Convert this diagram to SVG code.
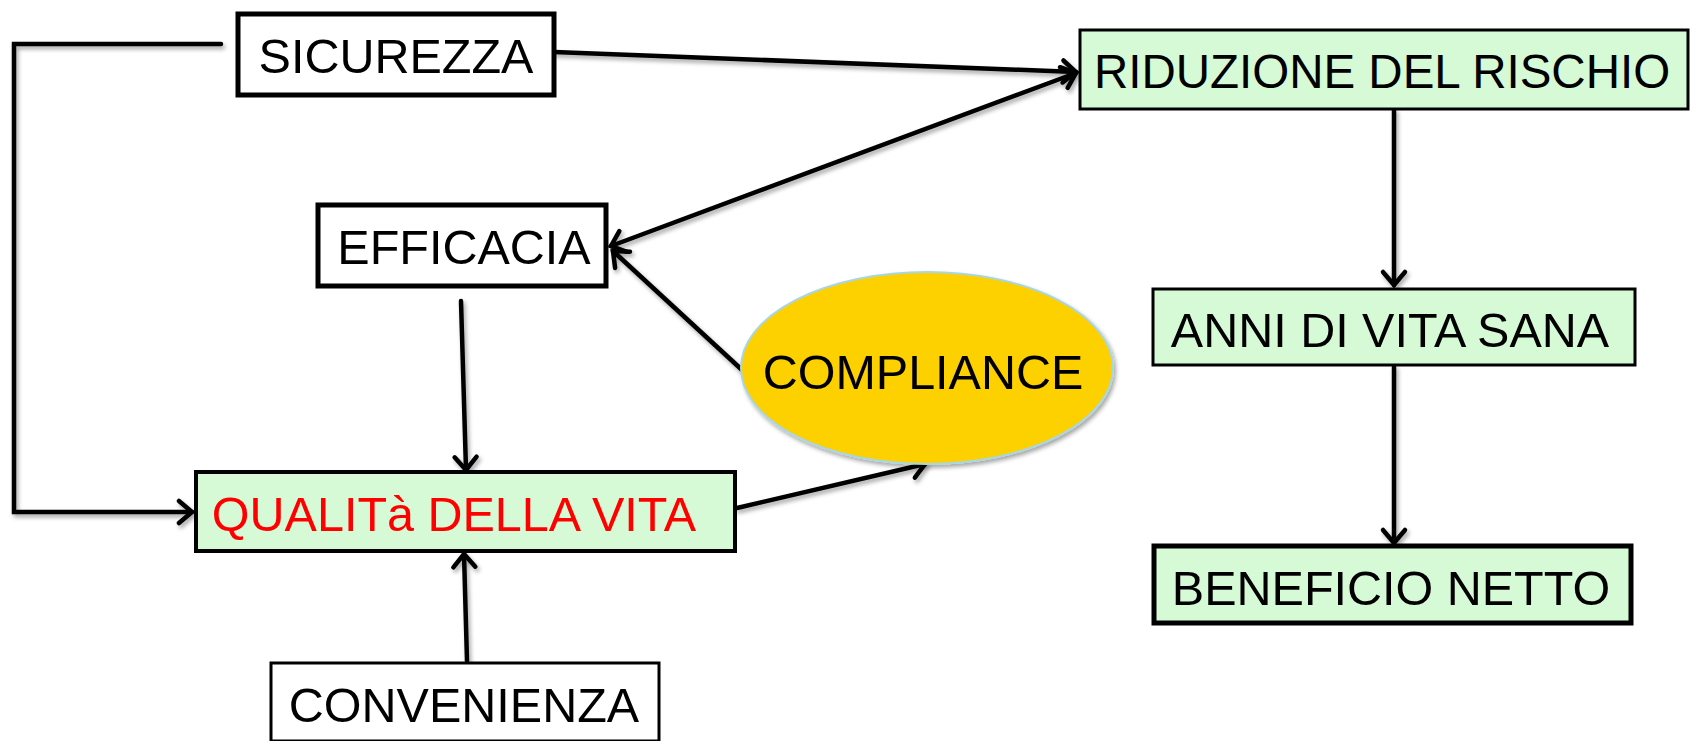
<svg xmlns="http://www.w3.org/2000/svg" width="1694" height="741" viewBox="0 0 1694 741">
<style>
.box{stroke:#000;fill:#fff}
.green{fill:#d5fad5}
.t{font-family:"Liberation Sans",Arial,sans-serif;font-size:48.5px;fill:#000;text-anchor:middle}
.red{fill:#ff0000}
.c{fill:none;stroke:#000;stroke-width:4.5;stroke-linecap:round;stroke-linejoin:miter}
</style>
<defs>
<filter id="sh" x="-20%" y="-20%" width="140%" height="140%">
<feDropShadow dx="2" dy="3" stdDeviation="2" flood-color="#000" flood-opacity="0.35"/>
</filter>
<marker id="ah" markerUnits="userSpaceOnUse" markerWidth="30" markerHeight="30" refX="16" refY="13" orient="auto-start-reverse" overflow="visible">
<path d="M3,2 L16,13 L3,24" fill="none" stroke="#000" stroke-width="4.5" stroke-linecap="round" stroke-linejoin="miter"/>
</marker>
</defs>
<g id="connectors" filter="url(#sh)">
<path class="c" d="M554,52 L1076,72" marker-end="url(#ah)"/>
<path class="c" d="M221,44 L14,44 L14,512 L192,512" marker-end="url(#ah)"/>
<path class="c" d="M611,246 L1076,73" marker-start="url(#ah)" marker-end="url(#ah)"/>
<path class="c" d="M741,369 L613,251" marker-end="url(#ah)"/>
<path class="c" d="M461,301 L466,470" marker-end="url(#ah)"/>
<path class="c" d="M737,508 L925,464" marker-end="url(#ah)"/>
<path class="c" d="M467,661 L464,554" marker-end="url(#ah)"/>
<path class="c" d="M1394,110 L1394,285" marker-end="url(#ah)"/>
<path class="c" d="M1394,367 L1394,543" marker-end="url(#ah)"/>
</g>
<g id="sicurezza">
<rect class="box" x="238" y="14" width="316" height="81" stroke-width="5"/>
<text class="t" x="396" y="73">SICUREZZA</text>
</g>
<g id="riduzione">
<rect class="box green" x="1080" y="30" width="608" height="79" stroke-width="3"/>
<text class="t" x="1382" y="88" style="font-size:47.5px">RIDUZIONE DEL RISCHIO</text>
</g>
<g id="efficacia">
<rect class="box" x="318" y="205" width="288" height="81" stroke-width="5"/>
<text class="t" x="464" y="264">EFFICACIA</text>
</g>
<g id="compliance">
<ellipse cx="927" cy="368" rx="186" ry="96" fill="#fdd000" stroke="#a9d6e3" stroke-width="2" filter="url(#sh)"/>
<text class="t" x="923" y="389">COMPLIANCE</text>
</g>
<g id="qualita">
<rect class="box green" x="196" y="472" width="539" height="79" stroke-width="4"/>
<text class="t red" x="454" y="531">QUALITà DELLA VITA</text>
</g>
<g id="convenienza">
<rect class="box" x="271" y="663" width="388" height="78" stroke-width="3"/>
<text class="t" x="464" y="722">CONVENIENZA</text>
</g>
<g id="anni">
<rect class="box green" x="1153" y="289" width="482" height="76" stroke-width="3"/>
<text class="t" x="1390" y="347">ANNI DI VITA SANA</text>
</g>
<g id="beneficio">
<rect class="box green" x="1154" y="546" width="477" height="77" stroke-width="5"/>
<text class="t" x="1391" y="605">BENEFICIO NETTO</text>
</g>
</svg>
